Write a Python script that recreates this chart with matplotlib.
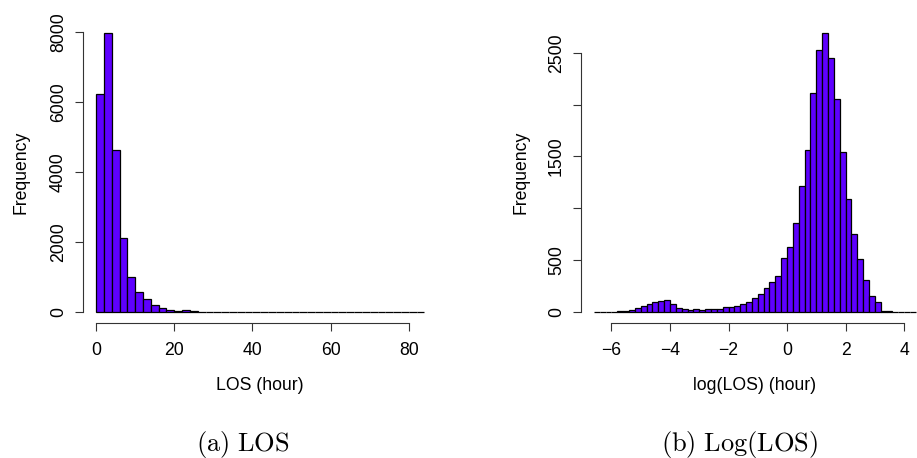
import numpy as np
import matplotlib
matplotlib.use("Agg")
import matplotlib.pyplot as plt

plt.rcParams['font.family'] = ['Liberation Sans', 'DejaVu Sans']
plt.rcParams['mathtext.fontset'] = 'cm'

# LOS histogram, bins of width 2 starting at 0
los_counts = [6250, 7990, 4620, 2120, 1010, 570, 370, 210, 105, 65,
              38, 55, 18, 8, 5, 4, 3, 2, 2, 1,
              1, 1, 0, 1, 0, 0, 1, 0, 0, 0,
              0, 0, 0, 0, 0, 0, 0, 0, 0, 0,
              0, 1]
los_start, los_width = 0.0, 2.0

# log(LOS) histogram, bins of width 0.2 starting at -6.6
log_counts = [0, 1, 1, 2, 6, 10, 13, 35, 58, 77,
              93, 103, 119, 80, 35, 29, 19, 32, 13, 29,
              29, 29, 48, 48, 55, 80, 93, 132, 174, 228,
              290, 346, 521, 621, 862, 1210, 1557, 2114, 2523, 2693,
              2445, 2053, 1538, 1091, 753, 508, 312, 148, 93, 10,
              6, 3, 2, 1, 1]
log_start, log_width = -6.6, 0.2

bar_color = '#5e00ff'
W, H = 917, 458

fig = plt.figure(figsize=(W / 100, H / 100), dpi=100)


def panel(rect_px, counts, start, width, xticks, yticks, ylabels, xlabel):
    x0, x1, ytop, ybot = rect_px
    ax = fig.add_axes([x0 / W, 1 - ybot / H, (x1 - x0) / W, (ybot - ytop) / H])
    edges = start + width * np.arange(len(counts))
    ax.bar(edges, counts, width=width, align='edge', color=bar_color,
           edgecolor='black', linewidth=0.9)
    lo, hi = start, start + width * len(counts)
    ext = 0.04 * (hi - lo)
    ax.set_xlim(lo - ext, hi + ext)
    m = max(counts)
    ax.set_ylim(-0.04 * m, 1.04 * m)
    for s in ['top', 'right']:
        ax.spines[s].set_visible(False)
    ax.spines['left'].set_bounds(yticks[0], yticks[-1])
    ax.spines['bottom'].set_bounds(xticks[0], xticks[-1])
    for s in ['left', 'bottom']:
        ax.spines[s].set_linewidth(0.8)
        ax.spines[s].set_color('#333333')
    ax.set_xticks(xticks, [str(t).replace('-', '\u2212') for t in xticks])
    ax.set_yticks(yticks, ylabels, rotation=90, va='center')
    ax.tick_params(axis='both', length=5.5, width=0.8, color='#333333',
                   labelsize=12.7)
    ax.tick_params(axis='x', pad=8)
    ax.tick_params(axis='y', pad=6)
    ax.set_xlabel(xlabel, fontsize=12.7, va='center')
    ax.set_ylabel('Frequency', fontsize=12.7, va='center')
    ax.xaxis.set_label_coords(0.5, (ybot - 385) / (ybot - ytop))
    return ax


ax1 = panel((83, 437.6, 21.6, 323), los_counts, los_start, los_width,
            [0, 20, 40, 60, 80], [0, 2000, 4000, 6000, 8000],
            ['0', '2000', '4000', '6000', '8000'], 'LOS (hour)')
ax1.yaxis.set_label_coords((21 - 83) / (437.6 - 83), 0.5)

ax2 = panel((581, 929, 21.6, 323), log_counts, log_start, log_width,
            [-6, -4, -2, 0, 2, 4], [0, 500, 1000, 1500, 2000, 2500],
            ['0', '500', '', '1500', '', '2500'], 'log(LOS) (hour)')
ax2.set_xlim(-7.04, 4.85)
ax2.yaxis.set_label_coords((521 - 581) / (929 - 581), 0.5)

fig.text(242.5 / W, 1 - 444 / H, r'$\mathrm{(a)\ LOS}$', ha='center',
         va='center', fontsize=19)
fig.text(739.5 / W, 1 - 444 / H, r'$\mathrm{(b)\ Log(LOS)}$', ha='center',
         va='center', fontsize=19)

fig.savefig('out.png', dpi=100)
